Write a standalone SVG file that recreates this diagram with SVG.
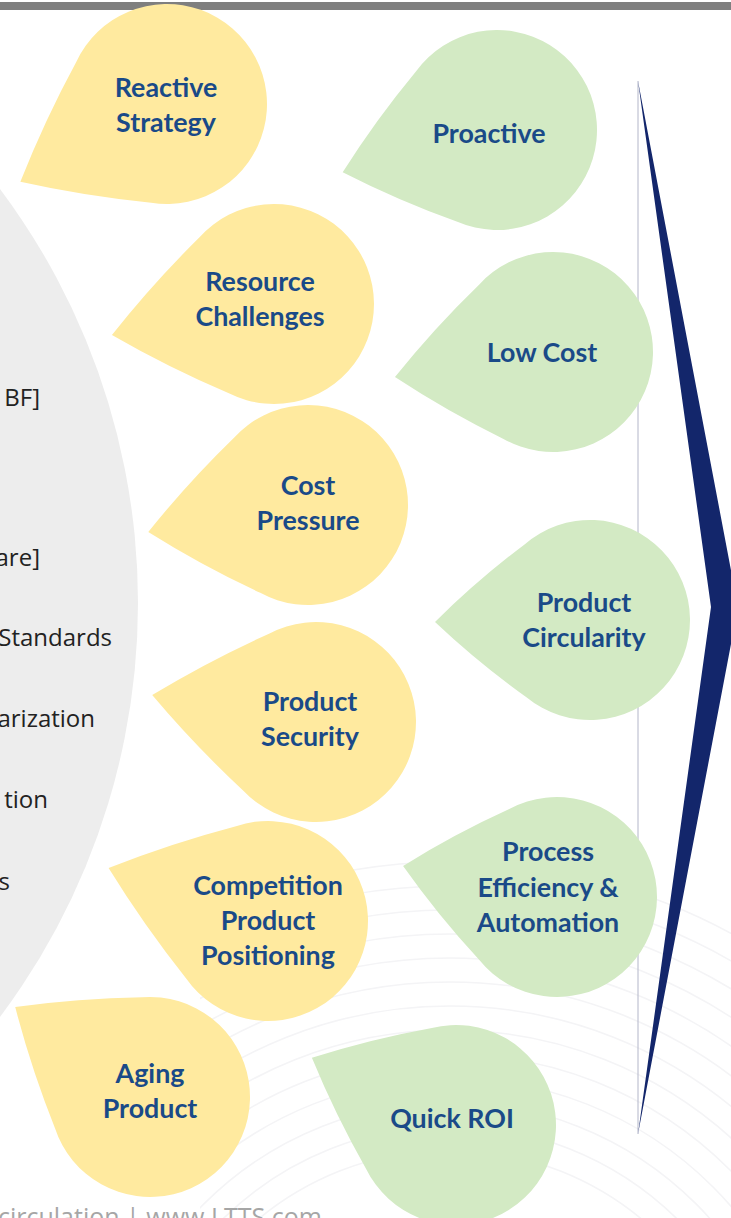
<svg xmlns="http://www.w3.org/2000/svg" width="731" height="1218" viewBox="0 0 731 1218">
<style>
.y{fill:#FFEA9F}
.g{fill:#D3EAC4}
.lbl{font-family:Lato,"Open Sans",sans-serif;font-weight:bold;font-size:26.8px;fill:#1A4A88;text-anchor:middle}
.side{font-family:"Open Sans",sans-serif;font-size:24px;fill:#222222;text-anchor:end}
.arc{fill:none;stroke:#F4F4F6;stroke-width:1.6}
</style>
<defs>
<path id="d155" d="M64.52,-76.4 Q112.34,-41.26 155,0 Q112.34,41.26 64.52,76.4 A100,100 0 1 1 64.52,-76.4 Z"/>
<path id="d157" d="M63.69,-77.09 Q112.9,-41.63 157,0 Q112.9,41.63 63.69,77.09 A100,100 0 1 1 63.69,-77.09 Z"/>
<path id="d159" d="M62.89,-77.75 Q113.47,-41.99 159,0 Q113.47,41.99 62.89,77.75 A100,100 0 1 1 62.89,-77.75 Z"/>
<path id="d160" d="M62.5,-78.06 Q113.75,-42.15 160,0 Q113.75,42.15 62.5,78.06 A100,100 0 1 1 62.5,-78.06 Z"/>
<path id="d162" d="M61.73,-78.67 Q114.34,-42.49 162,0 Q114.34,42.49 61.73,78.67 A100,100 0 1 1 61.73,-78.67 Z"/>
<path id="d165" d="M60.61,-79.54 Q115.23,-42.95 165,0 Q115.23,42.95 60.61,79.54 A100,100 0 1 1 60.61,-79.54 Z"/>
<path id="d166" d="M60.24,-79.82 Q115.53,-43.1 166,0 Q115.53,43.1 60.24,79.82 A100,100 0 1 1 60.24,-79.82 Z"/>
<path id="d168" d="M59.52,-80.36 Q116.14,-43.39 168,0 Q116.14,43.39 59.52,80.36 A100,100 0 1 1 59.52,-80.36 Z"/>
<clipPath id="bgclip"><rect x="200" y="760" width="531" height="458"/></clipPath>
</defs>
<rect width="731" height="1218" fill="#FFFFFF"/>
<g id="background-arcs" clip-path="url(#bgclip)">
<circle class="arc" cx="450" cy="1450" r="300"/>
<circle class="arc" cx="450" cy="1450" r="324"/>
<circle class="arc" cx="450" cy="1450" r="348"/>
<circle class="arc" cx="450" cy="1450" r="372"/>
<circle class="arc" cx="450" cy="1450" r="396"/>
<circle class="arc" cx="450" cy="1450" r="420"/>
<circle class="arc" cx="450" cy="1450" r="444"/>
<circle class="arc" cx="450" cy="1450" r="468"/>
<circle class="arc" cx="450" cy="1450" r="492"/>
<circle class="arc" cx="450" cy="1450" r="516"/>
<circle class="arc" cx="450" cy="1450" r="540"/>
<circle class="arc" cx="450" cy="1450" r="564"/>
<circle class="arc" cx="450" cy="1450" r="588"/>
</g>
<g id="gray-circle">
<circle cx="-552" cy="603" r="690" fill="#EDEDED"/>
<text class="side" x="40" y="406">BF]</text>
<text class="side" x="40" y="566">are]</text>
<text class="side" x="112" y="646">Standards</text>
<text class="side" x="95" y="727">arization</text>
<text class="side" x="48" y="808">tion</text>
<text class="side" x="10" y="890">s</text>
</g>
<rect id="top-bar" x="0" y="2" width="731" height="8" fill="#7F7F7F"/>
<g id="connectors">
<line x1="638" y1="81" x2="638" y2="1134" stroke="#B3B6C9" stroke-width="1"/>
<polygon points="638,81 738,607 638,1134 711,607" fill="#13266B"/>
</g>
<g id="reactive-strategy">
<use href="#d166" class="y" transform="translate(167,104) rotate(152.05)"/>
<text class="lbl"><tspan x="166" y="97">Reactive</tspan><tspan x="166" y="132">Strategy</tspan></text>
</g>
<g id="resource-challenges">
<use href="#d165" class="y" transform="translate(274,304) rotate(169.17)"/>
<text class="lbl"><tspan x="260" y="291">Resource</tspan><tspan x="260" y="326">Challenges</tspan></text>
</g>
<g id="cost-pressure">
<use href="#d162" class="y" transform="translate(308,505) rotate(170.4)"/>
<text class="lbl"><tspan x="308" y="495">Cost</tspan><tspan x="308" y="530">Pressure</tspan></text>
</g>
<g id="product-security">
<use href="#d166" class="y" transform="translate(316,722) rotate(189.35)"/>
<text class="lbl"><tspan x="310" y="711">Product</tspan><tspan x="310" y="746">Security</tspan></text>
</g>
<g id="competition-product-positioning">
<use href="#d168" class="y" transform="translate(268,921) rotate(198.4)"/>
<text class="lbl"><tspan x="268" y="895">Competition</tspan><tspan x="268" y="930">Product</tspan><tspan x="268" y="965">Positioning</tspan></text>
</g>
<g id="aging-product">
<use href="#d162" class="y" transform="translate(150,1097) rotate(213.7)"/>
<text class="lbl"><tspan x="150" y="1083">Aging</tspan><tspan x="150" y="1118">Product</tspan></text>
</g>
<g id="proactive">
<use href="#d160" class="g" transform="translate(497,130) rotate(164.7)"/>
<text class="lbl" x="489" y="143">Proactive</text>
</g>
<g id="low-cost">
<use href="#d160" class="g" transform="translate(553,352) rotate(171)"/>
<text class="lbl" x="542" y="362">Low Cost</text>
</g>
<g id="product-circularity">
<use href="#d155" class="g" transform="translate(590,620) rotate(179.3)"/>
<text class="lbl"><tspan x="584" y="612">Product</tspan><tspan x="584" y="647">Circularity</tspan></text>
</g>
<g id="process-efficiency-automation">
<use href="#d157" class="g" transform="translate(557,897) rotate(191.4)"/>
<text class="lbl"><tspan x="548" y="861">Process</tspan><tspan x="548" y="897">Efficiency &amp;</tspan><tspan x="548" y="932">Automation</tspan></text>
</g>
<g id="quick-roi">
<use href="#d159" class="g" transform="translate(456,1125) rotate(205)"/>
<text class="lbl" x="452" y="1128">Quick ROI</text>
</g>
<text id="footer" x="322" y="1226" font-family="'Open Sans',sans-serif" font-size="25" fill="#A6A6A6" text-anchor="end">circulation | www.LTTS.com</text>
</svg>
